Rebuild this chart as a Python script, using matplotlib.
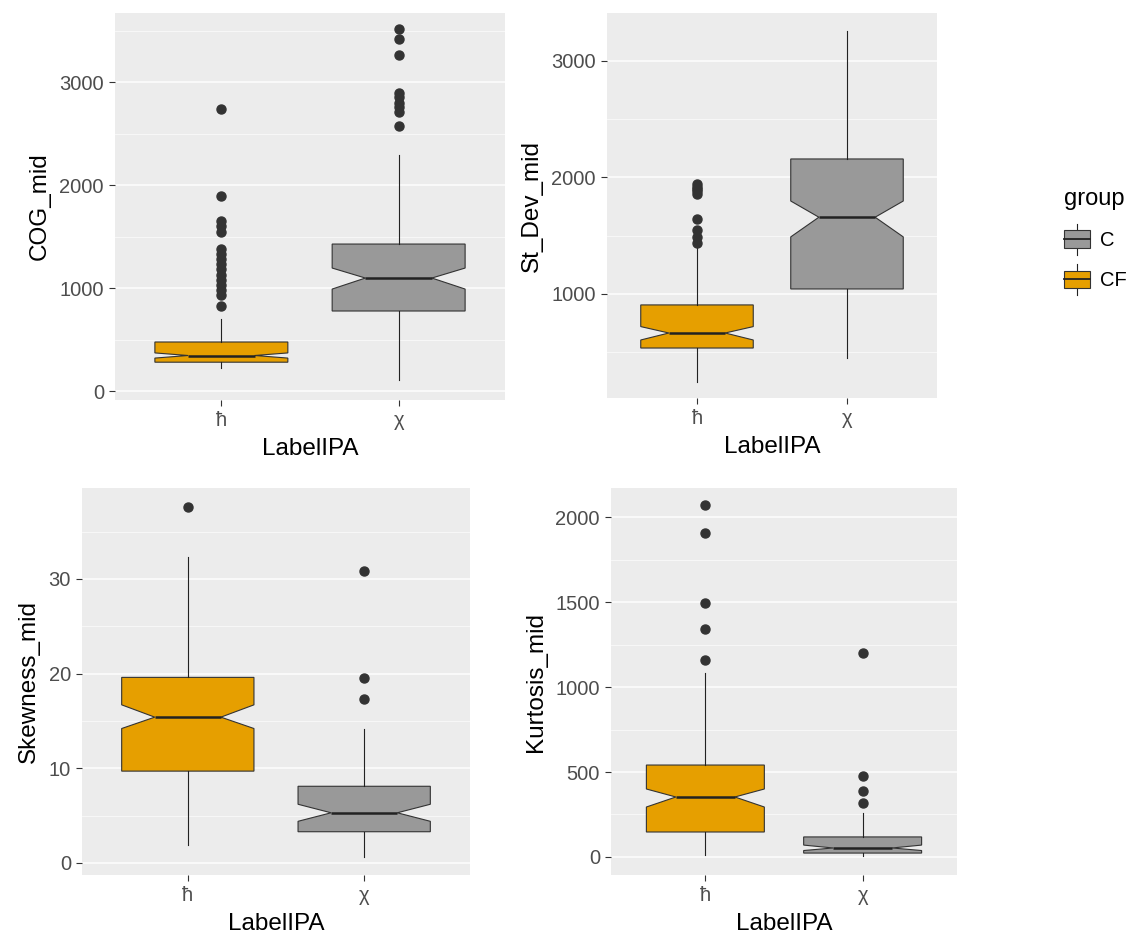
import matplotlib
matplotlib.use("Agg")
import matplotlib.pyplot as plt
from matplotlib.patches import Rectangle
from matplotlib.lines import Line2D
from matplotlib.legend_handler import HandlerBase
from matplotlib.ticker import MultipleLocator

plt.rcParams['font.family'] = ['Liberation Sans', 'DejaVu Sans']

# Categories / groups
labels = ['ħ', 'χ']
groups = ['CF', 'C']  # group of each label
group_colors = {'C': '#999999', 'CF': '#E69F00'}

# Box statistics: [ħ, χ]
cog_q1 = [280, 777]
cog_med = [345, 1097]
cog_q3 = [476, 1427]
cog_lo = [223, 107]
cog_hi = [700, 2291]
cog_ci = [(320, 370), (990, 1194)]
cog_out = [[830, 930, 980, 1030, 1080, 1130, 1180, 1230, 1280, 1330, 1380,
            1540, 1600, 1650, 1890, 2740],
           [2573, 2710, 2760, 2800, 2850, 2893, 3262, 3417, 3515]]

sd_q1 = [536, 1043]
sd_med = [665, 1659]
sd_q3 = [906, 2159]
sd_lo = [245, 450]
sd_hi = [1420, 3258]
sd_ci = [(605, 720), (1490, 1798)]
sd_out = [[1440, 1490, 1549, 1643, 1860, 1880, 1900, 1920, 1945], []]

sk_q1 = [9.7, 3.3]
sk_med = [15.4, 5.3]
sk_q3 = [19.6, 8.1]
sk_lo = [1.9, 0.6]
sk_hi = [32.3, 14.2]
sk_ci = [(14.2, 16.7), (4.4, 6.2)]
sk_out = [[37.6], [17.3, 19.5, 30.8]]

ku_q1 = [147, 23]
ku_med = [353, 53]
ku_q3 = [541, 118]
ku_lo = [10, 5]
ku_hi = [1082, 259]
ku_ci = [(294, 400), (38, 70)]
ku_out = [[1159, 1341, 1494, 1906, 2071], [318, 388, 476, 1200]]


def make_stats(q1, med, q3, lo, hi, ci, out):
    stats = []
    for i in range(len(labels)):
        stats.append(dict(q1=q1[i], med=med[i], q3=q3[i], whislo=lo[i], whishi=hi[i],
                          cilo=ci[i][0], cihi=ci[i][1], fliers=out[i]))
    return stats


def draw_panel(rect, stats, ylabel, major, ylim):
    ax = fig.add_axes(rect)
    ax.set_facecolor('#ECECEC')
    for s in ax.spines.values():
        s.set_visible(False)
    ax.set_axisbelow(True)
    ax.yaxis.set_major_locator(MultipleLocator(major))
    ax.yaxis.set_minor_locator(MultipleLocator(major / 2))
    ax.grid(which='major', axis='y', color='white', lw=1.2, alpha=0.85)
    ax.grid(which='minor', axis='y', color='white', lw=0.6, alpha=0.7)
    bp = ax.bxp(stats, positions=[1, 2], widths=0.75, shownotches=True, showcaps=False,
                patch_artist=True,
                boxprops=dict(edgecolor='#333333', lw=0.8),
                whiskerprops=dict(color='#222222', lw=0.8),
                medianprops=dict(color='#222222', lw=1.8),
                flierprops=dict(marker='o', markerfacecolor='#333333', markeredgecolor='#333333',
                                markersize=6.5, linestyle='none'))
    for patch, g in zip(bp['boxes'], groups):
        patch.set_facecolor(group_colors[g])
    ax.set_xlim(0.4, 2.6)
    ax.set_ylim(*ylim)
    ax.set_xticks([1, 2])
    ax.set_xticklabels(labels)
    ax.tick_params(which='major', length=4, width=0.8, color='#333333', labelcolor='#4D4D4D',
                   labelsize=14.5, pad=4)
    ax.tick_params(which='minor', length=0)
    ax.set_xlabel('LabelIPA', fontsize=17.5, color='black', labelpad=6)
    ax.set_ylabel(ylabel, fontsize=17.5, color='black', labelpad=6)
    return ax


W, H = 1139, 943
fig = plt.figure(figsize=(W / 100, H / 100), dpi=100)


def px(x0, y0, x1, y1):
    return [x0 / W, 1 - y1 / H, (x1 - x0) / W, (y1 - y0) / H]


draw_panel(px(115, 13, 505, 400), make_stats(cog_q1, cog_med, cog_q3, cog_lo, cog_hi, cog_ci, cog_out),
           'COG_mid', 1000, (-87, 3670))
draw_panel(px(607, 13, 937, 398), make_stats(sd_q1, sd_med, sd_q3, sd_lo, sd_hi, sd_ci, sd_out),
           'St_Dev_mid', 1000, (107, 3412))
draw_panel(px(82, 488, 470, 875), make_stats(sk_q1, sk_med, sk_q3, sk_lo, sk_hi, sk_ci, sk_out),
           'Skewness_mid', 10, (-1.27, 39.6))
draw_panel(px(611, 488, 957, 875), make_stats(ku_q1, ku_med, ku_q3, ku_lo, ku_hi, ku_ci, ku_out),
           'Kurtosis_mid', 500, (-106, 2171))


# legend with boxplot-like keys
class BoxKey(HandlerBase):
    def create_artists(self, legend, orig_handle, xdescent, ydescent, width, height, fontsize, trans):
        x0, y0 = -xdescent, -ydescent
        c = orig_handle.get_facecolor()
        r = Rectangle((x0, y0 + height * 0.1), width, height * 0.8, facecolor=c,
                      edgecolor='#333333', lw=0.8, transform=trans)
        m = Line2D([x0, x0 + width], [y0 + height / 2] * 2, color='#222222', lw=1.3, transform=trans)
        w1 = Line2D([x0 + width / 2] * 2, [y0 + height * 0.9, y0 + height * 1.2], color='#222222',
                    lw=0.8, transform=trans)
        w2 = Line2D([x0 + width / 2] * 2, [y0 - height * 0.2, y0 + height * 0.1], color='#222222',
                    lw=0.8, transform=trans)
        return [w1, w2, r, m]


handles = [Rectangle((0, 0), 1, 1, facecolor=group_colors[g]) for g in ['C', 'CF']]
leg = fig.legend(handles, ['C', 'CF'], title='group', loc='upper left',
                 bbox_to_anchor=(1046 / W, 1 - 170 / H), frameon=False, fontsize=14.5,
                 title_fontsize=17, handler_map={Rectangle: BoxKey()},
                 handlelength=1.3, handleheight=1.3, labelspacing=0.9, handletextpad=0.5,
                 alignment='left')

fig.savefig('out.png', dpi=100, facecolor='white')
